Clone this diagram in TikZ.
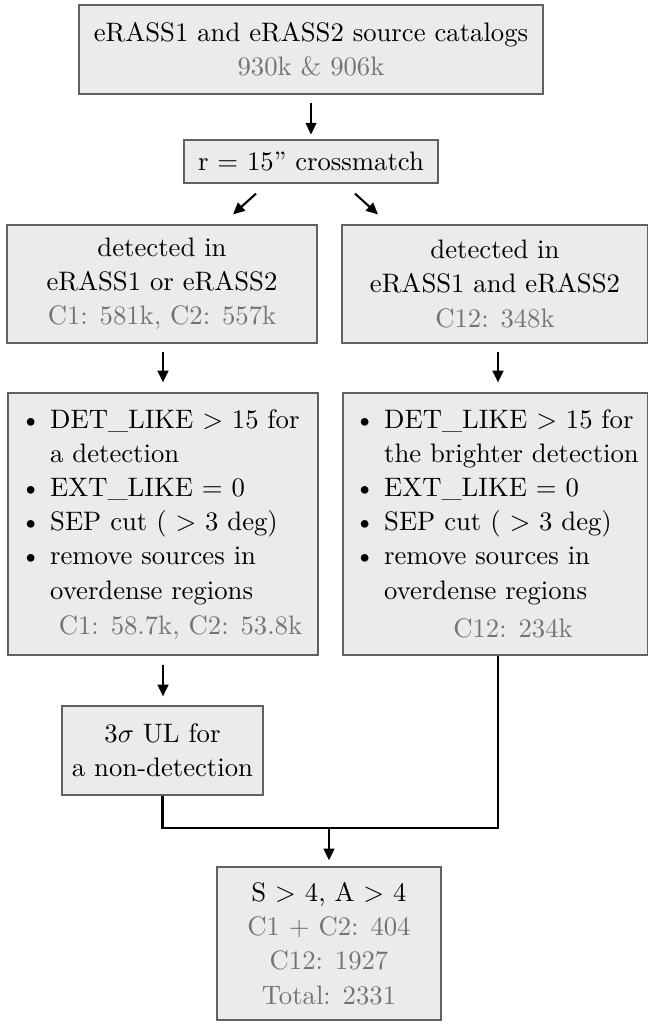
\documentclass[tikz,border=0pt]{standalone}
\usetikzlibrary{arrows.meta,calc}
\definecolor{gtxt}{gray}{0.45}
\definecolor{boxfill}{gray}{0.92}
\definecolor{boxline}{gray}{0.38}
\begin{document}
\begin{tikzpicture}[x=0.41pt,y=-0.41pt,
  every node/.style={font=\fontsize{10.95}{14}\selectfont},
  box/.style 2 args={draw=boxline,fill=boxfill,line width=0.5pt,inner sep=0pt,
     minimum width=#1*0.41pt,minimum height=#2*0.41pt,align=center},
  plain/.style={inner sep=0pt,align=left},
  arr/.style={line width=0.85pt,-{Triangle[length=4.8pt,width=4.4pt]}},
  conn/.style={line width=0.9pt}]
\useasboundingbox (0,0) rectangle (648,1023);

\node[box={464}{89}] (top) at (311,49.5)
  {eRASS1 and eRASS2 source catalogs\\\textcolor{gtxt}{930k \& 906k}};
\node[box={254}{43}] (cross) at (311,161.5) {r $=$ 15'' crossmatch};

\node[box={310}{118}] (left2) at (162,284)
  {detected in\\eRASS1 or eRASS2\\\textcolor{gtxt}{C1: 581k, C2: 557k}};
\node[box={306}{118}] (right2) at (495,284)
  {detected in\\eRASS1 and eRASS2\\\textcolor{gtxt}{C12: 348k}};

\node[box={310}{262}] (left3) at (163,524) {};
\node[box={305}{262}] (right3) at (495.5,524) {};

\node[plain,anchor=west] (left3txt) at (20,507)
  {\textbullet\ DET\_LIKE $>$ 15 for\\
   \hphantom{\textbullet\ }a detection\\
   \textbullet\ EXT\_LIKE $=$ 0\\
   \textbullet\ SEP cut ( $>$ 3 deg)\\
   \textbullet\ remove sources in\\
   \hphantom{\textbullet\ }overdense regions};
\node[plain] (left3num) at (180.5,628) {\textcolor{gtxt}{C1: 58.7k, C2: 53.8k}};

\node[plain,anchor=west] (right3txt) at (354,507)
  {\textbullet\ DET\_LIKE $>$ 15 for\\
   \hphantom{\textbullet\ }the brighter detection\\
   \textbullet\ EXT\_LIKE $=$ 0\\
   \textbullet\ SEP cut ( $>$ 3 deg)\\
   \textbullet\ remove sources in\\
   \hphantom{\textbullet\ }overdense regions};
\node[plain] (right3num) at (513,628) {\textcolor{gtxt}{C12: 234k}};

\node[box={201}{89}] (ul) at (162.5,750.5) {3$\sigma$ UL for\\a non-detection};

\node[box={224}{153}] (final) at (329,943.5)
  {S $>$ 4, A $>$ 4\\\textcolor{gtxt}{C1 $+$ C2: 404}\\\textcolor{gtxt}{C12: 1927}\\\textcolor{gtxt}{Total: 2331}};

\coordinate (jn) at (329,828);

\draw[arr,shorten <=3.3pt,shorten >=2pt] (top.south) -- (cross.north);
\draw[arr] ($(cross.south)+(-55,10)$) -- ($(left2.north)+(71,-10)$);
\draw[arr] ($(cross.south)+(44,10)$) -- ($(right2.north)+(-117,-10)$);
\draw[arr] ($(left2.south)+(1,8)$) -- ($(left3.north)+(0,-10)$);
\draw[arr] ($(right2.south)+(3,8)$) -- ($(right3.north)+(2.5,-10)$);
\draw[arr] ($(left3.south)+(0,9)$) -- ($(ul.north)+(0.5,-9)$);
\draw[conn] (ul.south) |- (jn) -| ($(right3.south)+(2.5,0)$);
\draw[arr,shorten >=2.5pt] (jn) -- (final.north);
\end{tikzpicture}
\end{document}
